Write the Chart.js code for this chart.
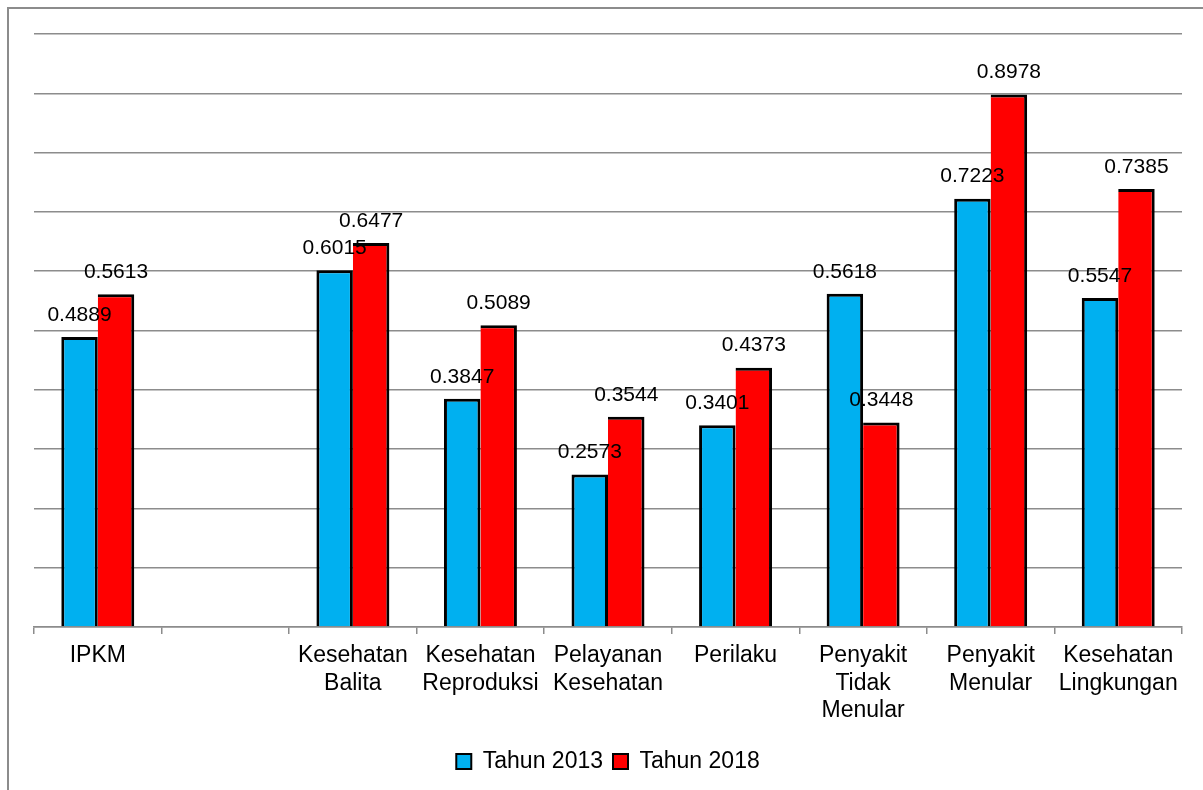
<!DOCTYPE html>
<html>
<head>
<meta charset="utf-8">
<script src="https://cdn.jsdelivr.net/npm/chart.js@4.4.0/dist/chart.umd.min.js"></script>
<style>
  html, body { margin: 0; padding: 0; background: #fff; }
  #wrap { position: relative; width: 1203px; height: 790px; overflow: hidden; }
  #frame { position: absolute; left: 7px; top: 7px; width: 1300px; height: 900px;
           border-top: 2px solid #8c8c8c; border-left: 2px solid #8c8c8c; }
  canvas { position: absolute; left: 0; top: 0; }
</style>
</head>
<body>
<div id="wrap">
  <div id="frame"></div>
  <canvas id="chart-1" width="1203" height="790"></canvas>
</div>
<script>
const categories = [
  "IPKM",
  "",
  ["Kesehatan", "Balita"],
  ["Kesehatan", "Reproduksi"],
  ["Pelayanan", "Kesehatan"],
  "Perilaku",
  ["Penyakit", "Tidak", "Menular"],
  ["Penyakit", "Menular"],
  ["Kesehatan", "Lingkungan"],
];
const tahun2013 = [0.4889, null, 0.6015, 0.3847, 0.2573, 0.3401, 0.5618, 0.7223, 0.5547];
const tahun2018 = [0.5613, null, 0.6477, 0.5089, 0.3544, 0.4373, 0.3448, 0.8978, 0.7385];
const seriesNames = ["Tahun 2013", "Tahun 2018"];

const FONT = "'Liberation Sans', Arial, sans-serif";
const GRID = "#8c8c8c";

// value labels above each bar
const barLabels = {
  id: "barLabels",
  afterDatasetsDraw(chart) {
    const ctx = chart.ctx;
    ctx.save();
    ctx.font = "21px " + FONT;
    ctx.fillStyle = "#000";
    ctx.textAlign = "center";
    ctx.textBaseline = "middle";
    chart.data.datasets.forEach((ds, i) => {
      chart.getDatasetMeta(i).data.forEach((bar, j) => {
        const v = ds.data[j];
        if (v === null) return;
        ctx.fillText(v.toFixed(4), bar.x, bar.y - 22);
      });
    });
    ctx.restore();
  },
};

new Chart(document.getElementById("chart-1"), {
  type: "bar",
  data: {
    labels: categories,
    datasets: [
      {
        label: seriesNames[0],
        data: tahun2013,
        backgroundColor: "#00B0F0",
        borderColor: "#000",
        borderWidth: 3,
      },
      {
        label: seriesNames[1],
        data: tahun2018,
        backgroundColor: "#FF0000",
        borderColor: "#000",
        borderWidth: { top: 3, right: 3, bottom: 0, left: 0 },
      },
    ],
  },
  options: {
    responsive: false,
    animation: false,
    categoryPercentage: 0.572,
    barPercentage: 1,
    layout: { padding: { left: 34, top: 34, right: 21, bottom: 7 } },
    scales: {
      x: {
        grid: {
          offset: true,
          drawOnChartArea: false,
          drawTicks: true,
          tickLength: 7,
          color: GRID,
          lineWidth: 1.5,
        },
        border: { display: true, color: GRID, width: 1.5 },
        ticks: {
          color: "#000",
          padding: 8,
          maxRotation: 0,
          autoSkip: false,
          font: { family: FONT, size: 23, lineHeight: 1.2 },
        },
        afterFit(scale) {
          scale.height = 113;
        },
      },
      y: {
        min: 0,
        max: 1,
        ticks: { display: false, stepSize: 0.1 },
        grid: { drawTicks: false, color: GRID, lineWidth: 1.5 },
        border: { display: false },
      },
    },
    plugins: {
      tooltip: { enabled: false },
      legend: {
        display: true,
        position: "bottom",
        labels: {
          boxWidth: 15,
          boxHeight: 15,
          padding: 10,
          color: "#000",
          font: { family: FONT, size: 23 },
          generateLabels(chart) {
            return chart.data.datasets.map((ds, i) => ({
              text: ds.label,
              fillStyle: ds.backgroundColor,
              strokeStyle: "#000",
              lineWidth: 2,
              datasetIndex: i,
            }));
          },
        },
      },
    },
  },
  plugins: [barLabels],
});
</script>
</body>
</html>
